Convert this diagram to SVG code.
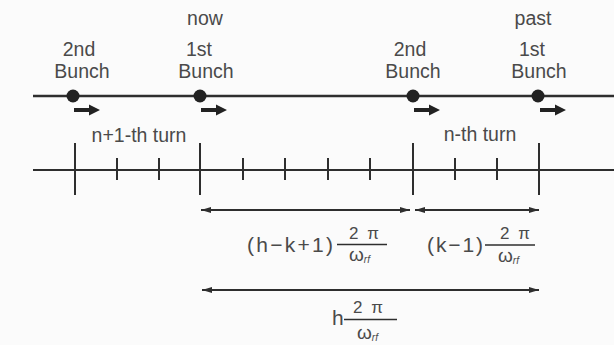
<svg xmlns="http://www.w3.org/2000/svg" width="614" height="345" viewBox="0 0 614 345">
<defs>
<style>
text{font-family:"Liberation Sans",Arial,sans-serif;fill:#4a4a4a}
.lbl{font-size:19.5px;text-anchor:middle}
.f{font-size:21px}
.num{font-size:17px;text-anchor:middle}
.om{font-size:19px}
.sub{font-size:10px;font-style:italic}
.ln{stroke:#2e2e2e;fill:none}
.dot{fill:#222}
.ar{fill:#222}
</style>
<marker id="ah" viewBox="0 0 10 6" refX="10" refY="3" markerWidth="10" markerHeight="6" markerUnits="userSpaceOnUse" orient="auto-start-reverse">
<path d="M0,0 L10,3 L0,6 Z" fill="#2e2e2e"/>
</marker>
<path id="bigarrow" d="M0,-2 L15,-2 L15,-5.5 L26,0 L15,5.5 L15,2 L0,2 Z"/>
</defs>
<rect width="614" height="345" fill="#fbfbfb"/>

<text class="lbl" x="205" y="25">now</text>
<text class="lbl" x="533" y="25">past</text>

<g id="beam">
<line class="ln" x1="33" y1="96" x2="614" y2="96" stroke-width="2.5"/>
</g>

<g id="bunch2-now">
<text class="lbl" x="79" y="56">2nd</text>
<text class="lbl" x="82" y="78">Bunch</text>
<circle class="dot" cx="73" cy="96" r="6.5"/>
<use href="#bigarrow" class="ar" x="74" y="110"/>
</g>
<g id="bunch1-now">
<text class="lbl" x="199" y="56">1st</text>
<text class="lbl" x="206" y="78">Bunch</text>
<circle class="dot" cx="200" cy="96" r="6.5"/>
<use href="#bigarrow" class="ar" x="201" y="110"/>
</g>
<g id="bunch2-past">
<text class="lbl" x="410" y="56">2nd</text>
<text class="lbl" x="413" y="78">Bunch</text>
<circle class="dot" cx="413" cy="96" r="6.5"/>
<use href="#bigarrow" class="ar" x="414" y="110"/>
</g>
<g id="bunch1-past">
<text class="lbl" x="532" y="56">1st</text>
<text class="lbl" x="539" y="78">Bunch</text>
<circle class="dot" cx="538" cy="96" r="6.5"/>
<use href="#bigarrow" class="ar" x="540" y="110"/>
</g>

<g id="timeline">
<text class="lbl" x="139" y="142">n+1-th turn</text>
<text class="lbl" x="480" y="141">n-th turn</text>
<line class="ln" x1="33" y1="170" x2="614" y2="170" stroke-width="2"/>
<g class="ln" stroke-width="2">
<line x1="75" y1="143" x2="75" y2="195"/>
<line x1="200" y1="143" x2="200" y2="195"/>
<line x1="413" y1="143" x2="413" y2="195"/>
<line x1="539" y1="143" x2="539" y2="195"/>
<line x1="117" y1="158" x2="117" y2="180"/>
<line x1="159" y1="158" x2="159" y2="180"/>
<line x1="243" y1="158" x2="243" y2="180"/>
<line x1="285" y1="158" x2="285" y2="180"/>
<line x1="328" y1="158" x2="328" y2="180"/>
<line x1="370" y1="158" x2="370" y2="180"/>
<line x1="455" y1="158" x2="455" y2="180"/>
<line x1="497" y1="158" x2="497" y2="180"/>
</g>
</g>

<g id="connectors">
<line class="ln" x1="201" y1="210" x2="410" y2="210" stroke-width="1.8" marker-start="url(#ah)" marker-end="url(#ah)"/>
<line class="ln" x1="415" y1="210" x2="539" y2="210" stroke-width="1.8" marker-start="url(#ah)" marker-end="url(#ah)"/>
<line class="ln" x1="202" y1="290" x2="539" y2="290" stroke-width="1.8" marker-start="url(#ah)" marker-end="url(#ah)"/>
</g>

<g id="label-hk1">
<text class="f" x="247" y="252" textLength="86" lengthAdjust="spacing">(h−k+1)</text>
<text class="num" x="364" y="239" textLength="30" lengthAdjust="spacing">2π</text>
<line class="ln" x1="337" y1="244.5" x2="387" y2="244.5" stroke-width="1.3"/>
<text class="om" x="349" y="261">ω<tspan class="sub" dy="2">rf</tspan></text>
</g>
<g id="label-k1">
<text class="f" x="427" y="252" textLength="56" lengthAdjust="spacing">(k−1)</text>
<text class="num" x="515" y="239" textLength="30" lengthAdjust="spacing">2π</text>
<line class="ln" x1="485" y1="245" x2="535" y2="245" stroke-width="1.3"/>
<text class="om" x="498" y="262">ω<tspan class="sub" dy="2">rf</tspan></text>
</g>
<g id="label-h">
<text class="f" x="332" y="325">h</text>
<text class="num" x="368" y="313" textLength="30" lengthAdjust="spacing">2π</text>
<line class="ln" x1="344" y1="319.5" x2="397" y2="319.5" stroke-width="1.3"/>
<text class="om" x="357" y="339">ω<tspan class="sub" dy="2">rf</tspan></text>
</g>
</svg>
